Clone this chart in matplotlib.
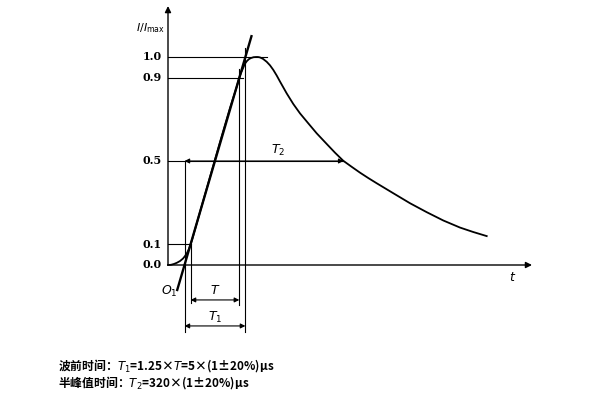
import numpy as np
import matplotlib.pyplot as plt

plt.rcParams['font.family'] = ['Noto Sans CJK SC', 'DejaVu Sans']

# Waveform (t in arbitrary drawing units, I/Imax)
t_curve = [0, 3, 6, 9, 12, 15, 17, 19, 21, 24, 32, 42, 52, 62, 69, 71, 73,
           75, 77, 79, 81, 83, 85.5, 88, 90, 92, 95, 98.7, 102, 105.3, 108.7,
           112, 118.7, 125.3, 132, 140.3, 148.7, 158.7, 167, 175.3, 183.7,
           192, 200.3, 208.7, 217, 225.3, 242, 258.7, 275.3, 292, 305, 318.7]
i_curve = [0.0, 0.001, 0.005, 0.011, 0.019, 0.031, 0.043, 0.058, 0.077, 0.12,
           0.255, 0.423, 0.591, 0.755, 0.861, 0.896, 0.923, 0.946, 0.968,
           0.981, 0.990, 0.995, 0.999, 1.0, 1.0, 0.998, 0.991, 0.977, 0.960,
           0.938, 0.911, 0.882, 0.825, 0.774, 0.729, 0.681, 0.633, 0.582,
           0.540, 0.501, 0.472, 0.444, 0.418, 0.393, 0.369, 0.345, 0.297,
           0.254, 0.214, 0.180, 0.159, 0.139]

levels = [0.0, 0.1, 0.5, 0.9, 1.0]
level_labels = ["0.0", "0.1", "0.5", "0.9", "1.0"]

t_curve = np.array(t_curve, dtype=float)
i_curve = np.array(i_curve)
ipk = int(np.argmax(i_curve))

# crossing points on the rising front and the tail
t10 = np.interp(0.1, i_curve[:ipk + 1], t_curve[:ipk + 1])
t90 = np.interp(0.9, i_curve[:ipk + 1], t_curve[:ipk + 1])
t50 = np.interp(0.5, i_curve[ipk:][::-1], t_curve[ipk:][::-1])
t_pk = t_curve[ipk]

# straight line through the 10% and 90% points
k = (0.9 - 0.1) / (t90 - t10)
def line_t(v):
    return t10 + (v - 0.1) / k
t_o1 = line_t(0.0)
t_1 = line_t(1.0)

fig = plt.figure(figsize=(6, 4), dpi=100)
ax = fig.add_axes([0, 0, 1, 1])
ax.set_xlim(-168, 432)
ax.set_ylim((265 - 400) / 208, 265 / 208)
ax.axis('off')

thin = dict(color='black', lw=0.8)

# axes with arrows
ax.annotate('', xy=(364, 0), xytext=(0, 0),
            arrowprops=dict(arrowstyle='-|>', color='black', lw=1.0,
                            mutation_scale=9, shrinkA=0, shrinkB=0))
ax.annotate('', xy=(0, 1.245), xytext=(0, 0),
            arrowprops=dict(arrowstyle='-|>', color='black', lw=1.0,
                            mutation_scale=9, shrinkA=0, shrinkB=0))

# waveform and front line
ax.plot(t_curve, i_curve, color='black', lw=1.3)
vv = np.array([-0.12, 1.10])
ax.plot(line_t(vv), vv, color='black', lw=1.7)

# level lines
ax.plot([0, t_pk + 11], [1.0, 1.0], **thin)
ax.plot([0, t90 + 4], [0.9, 0.9], **thin)
ax.plot([0, t10], [0.1, 0.1], **thin)
ax.plot([0, t50], [0.5, 0.5], **thin)

# vertical construction lines
ax.plot([t_o1, t_o1], [0.5, -0.322], **thin)
ax.plot([t10, t10], [0.1, -0.183], **thin)
ax.plot([t90, t90], [0.943, -0.19], **thin)
ax.plot([t_1, t_1], [1.043, -0.322], **thin)

arr = dict(arrowstyle='<|-|>', color='black', lw=0.8, mutation_scale=7,
           shrinkA=0, shrinkB=0)
ax.annotate('', xy=(t10, -0.168), xytext=(t90, -0.168), arrowprops=arr)
ax.annotate('', xy=(t_o1, -0.293), xytext=(t_1, -0.293), arrowprops=arr)
ax.annotate('', xy=(t_o1, 0.5), xytext=(t50, 0.5), arrowprops=arr)

ax.text((t10 + t90) / 2, -0.125, '$T$', ha='center', va='center', fontsize=9)
ax.text((t_o1 + t_1) / 2, -0.252, '$T_1$', ha='center', va='center', fontsize=9)
ax.text(110, 0.553, '$T_2$', ha='center', va='center', fontsize=9)
ax.text(1, -0.125, '$O_1$', ha='center', va='center', fontsize=9)
ax.text(345, -0.062, '$t$', ha='center', va='center', fontsize=9)
ax.text(-3, 1.139, '$I/I_{\\rm max}$', ha='right', va='center', fontsize=8)

for lv, lb in zip(levels, level_labels):
    ax.text(-6, lv, lb, ha='right', va='center', fontsize=8, fontweight='bold',
            family='DejaVu Serif')

fig.text(58 / 600, 1 - 366 / 400, '波前时间：$T_1$=1.25×$T$=5×(1±20%)μs',
         ha='left', va='center', fontsize=8.5, fontweight='bold')
fig.text(58 / 600, 1 - 383 / 400, '半峰值时间：$T_2$=320×(1±20%)μs',
         ha='left', va='center', fontsize=8.5, fontweight='bold')

fig.savefig('out.png', dpi=100)
